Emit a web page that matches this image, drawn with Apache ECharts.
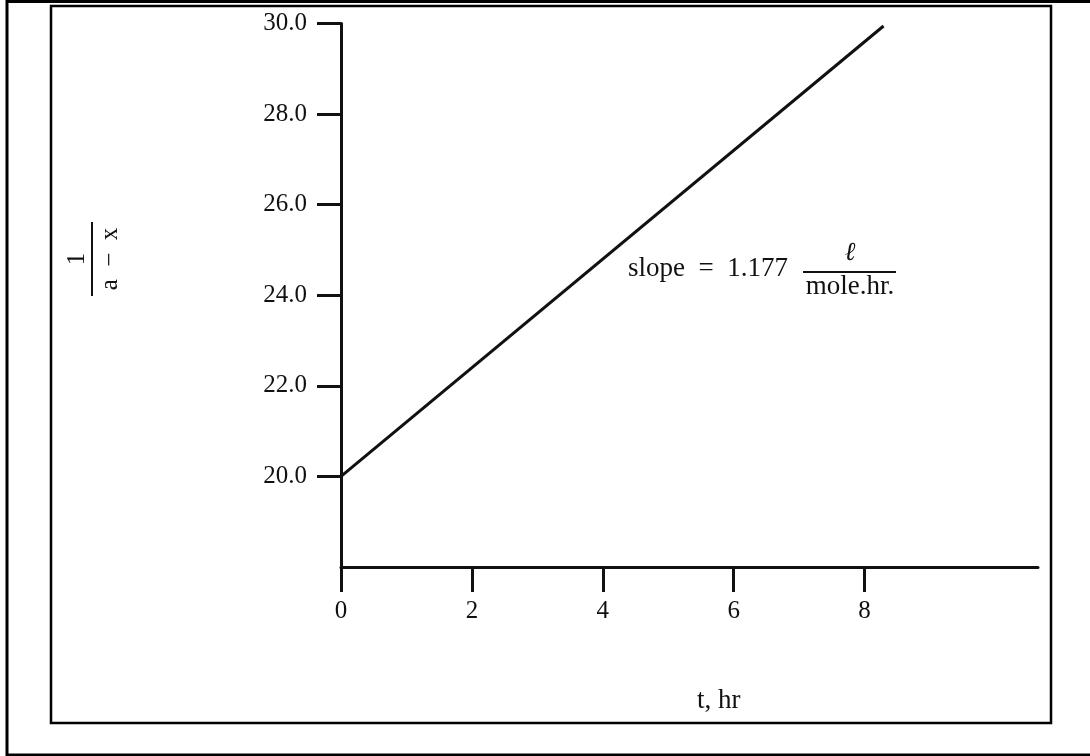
<!DOCTYPE html>
<html>
<head>
<meta charset="utf-8">
<script src="https://cdn.jsdelivr.net/npm/echarts@6/dist/echarts.min.js"></script>
<style>
html,body{margin:0;padding:0;background:#fff;}
#chart{width:1090px;height:756px;}
</style>
</head>
<body>
<div id="chart"></div>
<script>
// Data
const lineX = [0, 8.29];
const lineY = [20.0, 29.945];
const xTicks = [0, 2, 4, 6, 8];
const yTicks = [20, 22, 24, 26, 28, 30];
const xTitle = 't, hr';
const yNumerator = '1';
const yDenominator = 'a  \u2212  x';
const slopeText = 'slope  =  1.177';
const slopeNum = '\u2113';
const slopeDen = 'mole.hr.';

const FONT = '"Liberation Serif", "Times New Roman", "DejaVu Serif", serif';
const INK = '#111';

const chart = echarts.init(document.getElementById('chart'), null, {renderer: 'canvas'});
chart.setOption({
  backgroundColor: '#fff',
  animation: false,
  grid: {left: 341, top: 23.5, right: 52, bottom: 189, containLabel: false},
  xAxis: {
    type: 'value', min: 0, max: 10.65,
    splitLine: {show: false},
    axisLine: {show: true, onZero: false, lineStyle: {color: INK, width: 3}},
    axisTick: {show: true, length: 25, lineStyle: {color: INK, width: 3}, customValues: xTicks},
    axisLabel: {show: true, margin: 32, color: INK, fontFamily: FONT, fontSize: 25,
      customValues: xTicks, formatter: v => String(v)}
  },
  yAxis: {
    type: 'value', min: 18, max: 30,
    splitLine: {show: false},
    axisLine: {show: true, onZero: false, lineStyle: {color: INK, width: 3}},
    axisTick: {show: true, length: 24, lineStyle: {color: INK, width: 3}, customValues: yTicks},
    axisLabel: {show: true, margin: 34, color: INK, fontFamily: FONT, fontSize: 25,
      customValues: yTicks, formatter: v => v.toFixed(1)}
  },
  series: [{
    type: 'line',
    data: lineX.map((x, i) => [x, lineY[i]]),
    showSymbol: false,
    lineStyle: {color: INK, width: 3},
    silent: true
  }],
  graphic: [
    {type: 'rect', shape: {x: 7, y: 1.5, width: 1100, height: 753.5},
      style: {fill: null, stroke: '#000', lineWidth: 3}, silent: true},
    {type: 'rect', shape: {x: 51, y: 6, width: 1000, height: 717},
      style: {fill: null, stroke: '#000', lineWidth: 2.5}, silent: true},
    {type: 'group', x: 92, y: 259, rotation: Math.PI / 2, children: [
      {type: 'line', shape: {x1: -37, y1: 0, x2: 37, y2: 0}, style: {stroke: INK, lineWidth: 2}},
      {type: 'text', x: 0, y: -15, style: {text: yNumerator, font: '25px ' + FONT, fill: INK, align: 'center', verticalAlign: 'middle'}},
      {type: 'text', x: 0, y: 18, style: {text: yDenominator, font: '25px ' + FONT, fill: INK, align: 'center', verticalAlign: 'middle'}}
    ]},
    {type: 'text', x: 628, y: 269, style: {text: slopeText, font: '27px ' + FONT, fill: INK, align: 'left', verticalAlign: 'middle'}},
    {type: 'line', shape: {x1: 803, y1: 272, x2: 896, y2: 272}, style: {stroke: INK, lineWidth: 2}},
    {type: 'text', x: 850, y: 253, style: {text: slopeNum, font: 'italic 26px ' + FONT, fill: INK, align: 'center', verticalAlign: 'middle'}},
    {type: 'text', x: 850, y: 287, style: {text: slopeDen, font: '27px ' + FONT, fill: INK, align: 'center', verticalAlign: 'middle'}},
    {type: 'text', x: 697, y: 701, style: {text: xTitle, font: '27px ' + FONT, fill: INK, align: 'left', verticalAlign: 'middle'}}
  ]
});
</script>
</body>
</html>
